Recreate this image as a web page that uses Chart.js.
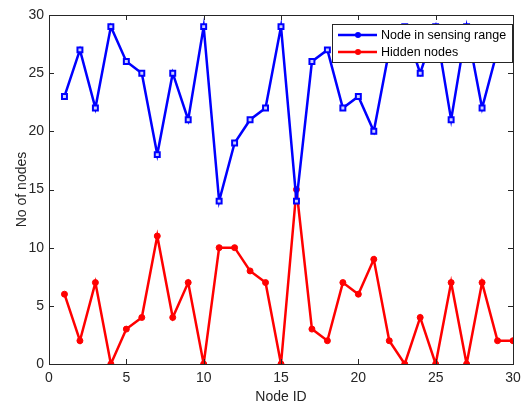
<!DOCTYPE html>
<html>
<head>
<meta charset="utf-8">
<script src="https://cdn.jsdelivr.net/npm/chart.js@4.4.1/dist/chart.umd.min.js"></script>
<style>
  html, body { margin: 0; padding: 0; background: #fff; }
  #wrap { width: 531px; height: 408px; }
</style>
</head>
<body>
<div id="wrap"><canvas id="myChart"></canvas></div>
<script>
// ---------- data ----------
let nodeIds = [1,2,3,4,5,6,7,8,9,10,11,12,13,14,15,16,17,18,19,20,21,22,23,24,25,26,27,28,29,30];
let sensingRange = [23,27,22,29,26,25,18,25,21,29,14,19,21,22,29,14,26,27,22,23,20,27,29,25,29,21,29,22,27,27];
let hiddenNodes = [6,2,7,0,3,4,11,4,7,0,10,10,8,7,0,15,3,2,7,6,9,2,0,4,0,7,0,7,2,2];
let tickVals = [0,5,10,15,20,25,30];
let seriesNames = ["Node in sensing range", "Hidden nodes"];

const FONT = "'Liberation Sans', Arial, sans-serif";
const AXIS_COL = "#262626";

function toXY(ys) {
  return nodeIds.map((x, i) => ({ x: x, y: ys[i] }));
}

// box + inward ticks + legend, MATLAB style
const matlabBox = {
  id: "matlabBox",
  afterDatasetsDraw(chart) {
    const ctx = chart.ctx, a = chart.chartArea;
    const xs = chart.scales.x, ys = chart.scales.y;
    ctx.save();
    ctx.strokeStyle = AXIS_COL;
    ctx.lineWidth = 1;
    ctx.beginPath();
    tickVals.forEach(v => {
      let px = Math.round(xs.getPixelForValue(v)) + 0.5;
      ctx.moveTo(px, a.bottom); ctx.lineTo(px, a.bottom - 5);
      ctx.moveTo(px, a.top); ctx.lineTo(px, a.top + 5);
      let py = Math.round(ys.getPixelForValue(v)) + 0.5;
      ctx.moveTo(a.left, py); ctx.lineTo(a.left + 5, py);
      ctx.moveTo(a.right, py); ctx.lineTo(a.right - 5, py);
    });
    ctx.stroke();
    ctx.strokeRect(Math.round(a.left) + 0.5, Math.round(a.top) + 0.5,
      Math.round(a.right - a.left), Math.round(a.bottom - a.top));

    // legend
    let lx = 332, ly = 24, lw = 180, lh = 38;
    ctx.fillStyle = "#fff";
    ctx.fillRect(lx, ly, lw, lh);
    ctx.strokeStyle = AXIS_COL;
    ctx.strokeRect(lx + 0.5, ly + 0.5, lw, lh);
    ctx.font = "12.5px " + FONT;
    ctx.textBaseline = "middle";
    chart.data.datasets.forEach((ds, i) => {
      let cy = ly + 11 + i * 17;
      ctx.strokeStyle = ds.borderColor;
      ctx.lineWidth = 2.5;
      ctx.beginPath();
      ctx.moveTo(lx + 6, cy); ctx.lineTo(lx + 45, cy);
      ctx.stroke();
      ctx.fillStyle = ds.borderColor;
      ctx.beginPath();
      ctx.arc(lx + 26, cy, 3, 0, Math.PI * 2);
      ctx.fill();
      ctx.fillStyle = "#000";
      ctx.fillText(ds.label, lx + 49, cy + 1);
    });
    ctx.restore();
  }
};

new Chart(document.getElementById("myChart"), {
  type: "line",
  data: {
    datasets: [
      {
        label: seriesNames[0],
        data: toXY(sensingRange),
        borderColor: "#0000ff",
        backgroundColor: "#ccd0ff",
        borderWidth: 2.5,
        pointStyle: "rect",
        pointRadius: 3.5,
        pointBorderWidth: 2,
        tension: 0
      },
      {
        label: seriesNames[1],
        data: toXY(hiddenNodes),
        borderColor: "#ff0000",
        backgroundColor: "#ff0000",
        borderWidth: 2.5,
        pointStyle: "circle",
        pointRadius: 3,
        pointBorderWidth: 1,
        tension: 0
      }
    ]
  },
  options: {
    responsive: true,
    maintainAspectRatio: false,
    animation: false,
    layout: { padding: { top: 15, right: 18, left: 0, bottom: 0 } },
    plugins: { legend: { display: false }, tooltip: { enabled: false } },
    scales: {
      x: {
        type: "linear",
        min: 0, max: 30,
        afterBuildTicks: s => { s.ticks = tickVals.map(v => ({ value: v })); },
        afterFit: s => { s.height = 44; },
        grid: { display: false, drawTicks: false },
        border: { display: false },
        ticks: { color: AXIS_COL, font: { family: FONT, size: 14 }, padding: 6, maxRotation: 0 },
        title: { display: true, text: "Node ID", color: AXIS_COL, font: { family: FONT, size: 14 }, padding: { top: 0, bottom: 2 } }
      },
      y: {
        min: 0, max: 30,
        afterBuildTicks: s => { s.ticks = tickVals.map(v => ({ value: v })); },
        afterFit: s => { s.width = 49; },
        grid: { display: false, drawTicks: false },
        border: { display: false },
        ticks: { color: AXIS_COL, font: { family: FONT, size: 14 }, padding: 5 },
        title: { display: true, text: "No of nodes", color: AXIS_COL, font: { family: FONT, size: 14 }, padding: { top: 14, bottom: 0 } }
      }
    }
  },
  plugins: [matlabBox]
});
</script>
</body>
</html>
